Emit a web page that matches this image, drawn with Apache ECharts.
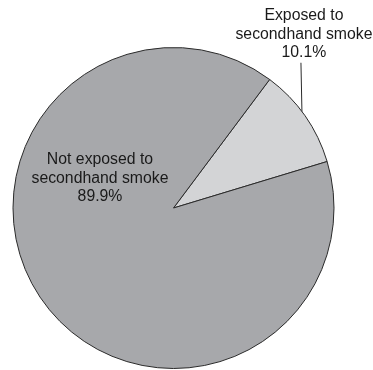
<!DOCTYPE html>
<html>
<head>
<meta charset="utf-8">
<script src="https://cdn.jsdelivr.net/npm/echarts@6/dist/echarts.min.js"></script>
<style>
  html, body { margin: 0; padding: 0; background: #ffffff; }
  #chart { width: 373px; height: 370px; }
</style>
</head>
<body>
<div id="chart"></div>
<script>
// Share of people by secondhand smoke exposure (percent)
const categories = ['Exposed to\nsecondhand smoke', 'Not exposed to\nsecondhand smoke'];
const shares = [10.1, 89.9];
const sliceColors = ['#d3d4d6', '#a7a8ab'];

const PIE_CX = 173.5, PIE_CY = 208, PIE_R = 160.5;

const chart = echarts.init(document.getElementById('chart'), null, { renderer: 'canvas' });

const labelFont = {
  fontFamily: 'Liberation Sans, Arial, Helvetica, sans-serif',
  fontSize: 15.8,
  lineHeight: 18.3,
  color: '#1a1a1a',
  align: 'center'
};

chart.setOption({
  animation: false,
  series: [{
    type: 'pie',
    center: [PIE_CX, PIE_CY],
    radius: PIE_R,
    startAngle: 53.2,
    clockwise: true,
    avoidLabelOverlap: false,
    silent: true,
    itemStyle: { borderColor: '#2a2a2a', borderWidth: 1 },
    label: Object.assign({ formatter: '{b}\n{c}%' }, labelFont),
    labelLine: { show: true, length: 10, length2: 0, lineStyle: { color: '#2a2a2a', width: 1 } },
    labelLayout: function (params) {
      if (params.dataIndex === 0) {
        // callout label sits almost straight above the slice edge
        const p0 = params.labelLinePoints[0];
        const lineX = p0[0] - 3;
        const startY = PIE_CY - Math.sqrt(PIE_R * PIE_R - Math.pow(lineX - PIE_CX, 2));
        const start = [lineX, startY];
        const top = [lineX - 1, startY - 49];
        return {
          x: lineX + 2,
          y: top[1] - 1,
          align: 'center',
          verticalAlign: 'bottom',
          labelLinePoints: [start, top, top]
        };
      }
      // large slice: label placed in its upper-left area
      return { dx: -73.5, dy: -29.7 };
    },
    data: categories.map(function (name, i) {
      const item = { name: name, value: shares[i], itemStyle: { color: sliceColors[i] } };
      if (i === 1) {
        item.label = { position: 'center' };
        item.labelLine = { show: false };
      } else {
        item.label = { position: 'outside' };
      }
      return item;
    })
  }]
});
</script>
</body>
</html>
